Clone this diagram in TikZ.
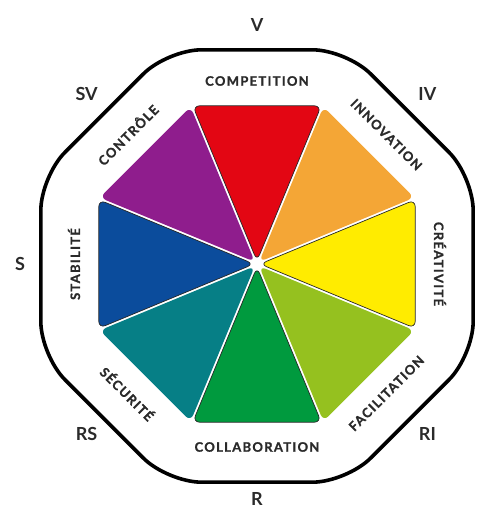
\documentclass[tikz,border=0pt]{standalone}
\usepackage{fontspec}
\setmainfont{Lato}
\newfontfamily\ringfont[LetterSpace=10, BoldFeatures={FakeBold=1.2}]{Lato}
\usepackage{xcolor}
\usetikzlibrary{calc}
\definecolor{wred}{HTML}{E30613}
\definecolor{worange}{HTML}{F4A636}
\definecolor{wyellow}{HTML}{FFEC00}
\definecolor{wlgreen}{HTML}{95C11F}
\definecolor{wdgreen}{HTML}{009A3E}
\definecolor{wteal}{HTML}{067F86}
\definecolor{wblue}{HTML}{0B4C9C}
\definecolor{wpurple}{HTML}{8F1D8D}
\definecolor{ink}{HTML}{2A2A2A}
\tikzset{
  wedge/.style={rounded corners=7pt},
  outlined/.style={draw=black!85, line width=0.7pt},
  frame/.style={draw=black, line width=3.6pt, rounded corners=34pt},
  ringlabel/.style={font=\ringfont\bfseries\fontsize{13}{13}\selectfont, text=ink, inner sep=0pt},
  zonelabel/.style={font=\bfseries\fontsize{18}{18}\selectfont, text=ink, inner sep=0pt}
}

\begin{document}
\begin{tikzpicture}[x=1pt,y=1pt]
    \useasboundingbox (-257,-247) rectangle (230,264);
    \def\Ri{168}  % inner octagon, circumradius
    \def\Ro{234}  % outer frame, circumradius
    % coloured wedges
    \foreach \c/\o [count=\i from 0] in {wred/outlined,worange/,wyellow/outlined,wlgreen/,wdgreen/outlined,wteal/,wblue/outlined,wpurple/}{
        \pgfmathsetmacro\a{90-45*\i}
        \path[wedge, fill=\c, \o, shift={(\a:3)}] (0,0) -- (\a+22.5:\Ri) -- (\a-22.5:\Ri) -- cycle;
    }
    % outer frame
    \draw[frame, yshift=-2pt] (22.5:\Ro) \foreach \k in {1,...,7}{ -- (22.5+45*\k:\Ro) } -- cycle;
    % names of the wedges
    \foreach \txt/\ang/\rot/\nm in {COMPETITION/90/0/comp, INNOVATION/45/-45/innov, CRÉATIVITÉ/0/-90/crea, FACILITATION/-45/45/facil, COLLABORATION/-90/0/collab, SÉCURITÉ/-135/-45/secu, STABILITÉ/180/90/stab, CONTRÔLE/135/45/ctrl}{
        \node[ringlabel, rotate=\rot] (\nm) at (\ang:183) {\txt};
    }
    % zones outside the frame
    \foreach \txt/\ang/\r in {V/90/239, IV/45/241, SV/135/241, S/180/237, R/-90/235, RS/-135/241, RI/-45/241}{
        \node[zonelabel] (z\txt) at (\ang:\r) {\txt};
    }
\end{tikzpicture}
\end{document}
